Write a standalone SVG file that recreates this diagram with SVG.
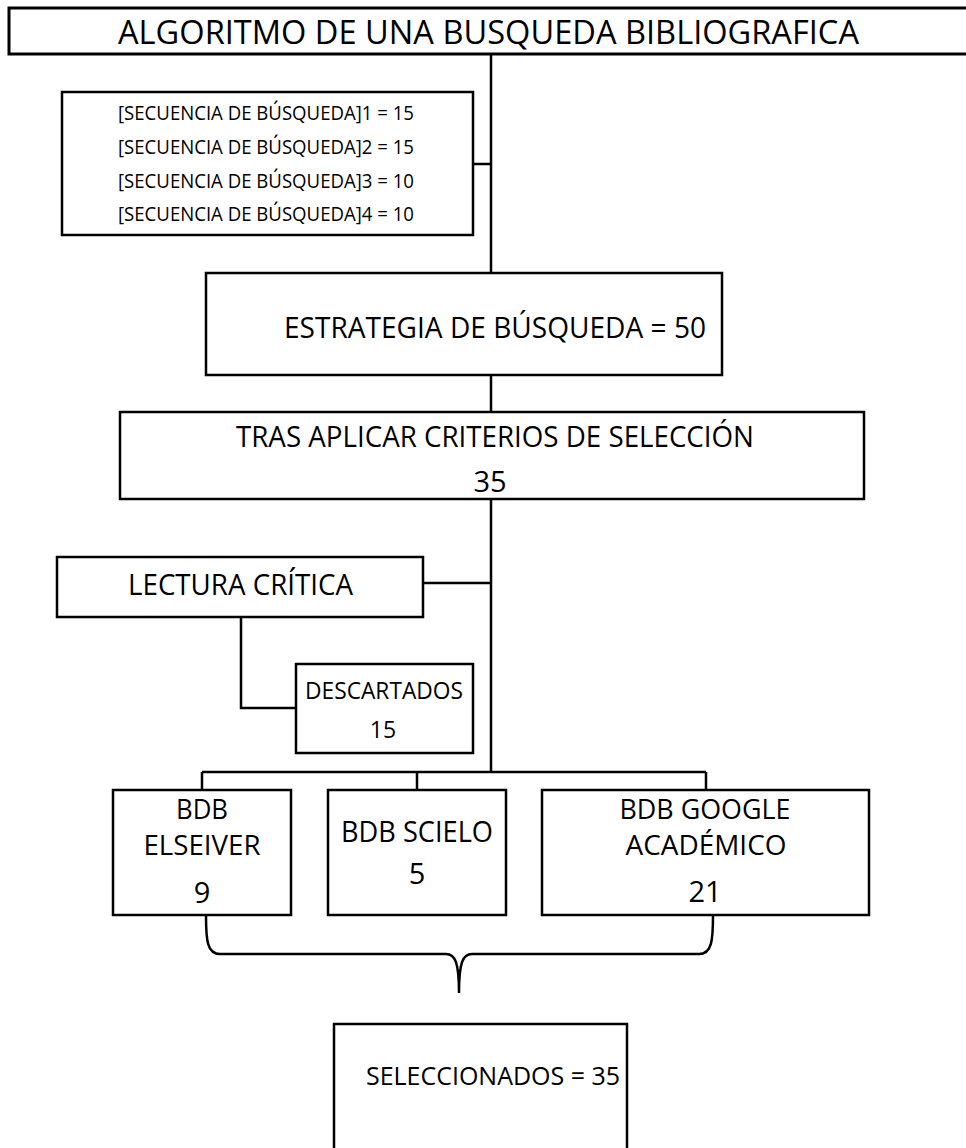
<svg xmlns="http://www.w3.org/2000/svg" width="966" height="1148" viewBox="0 0 966 1148">
<style>
.box{fill:#fff;stroke:#000;stroke-width:2.5}
.ln{fill:none;stroke:#000;stroke-width:2.5}
text{font-family:"Open Sans","Liberation Sans",sans-serif;fill:#000;text-anchor:middle}
.t1{font-size:33.6px}
.t2{font-size:29px}
.t2s{font-size:27.5px}
.t3{font-size:20px}
.t4{font-size:23px}
.t5{font-size:25.5px}
</style>
<rect width="966" height="1148" fill="#fff"/>
<g id="connectors">
<path class="ln" d="M491 54 V273 M473 164 H491 M491 375 V412 M491 499 V772 M423 583 H491 M241 617 V708 H296 M202 772 H706 M202 772 V790 M417 772 V790 M706 772 V790"/>
<path class="ln" d="M206 915 C206 940 207 954 220 954 L446 954 C455 954 459 962 459 993 M713 915 C713 940 712 954 699 954 L472 954 C463 954 459 962 459 993"/>
</g>
<g id="title">
<rect class="box" x="9" y="8" width="970" height="46" style="stroke-width:3"/>
<text class="t1" x="488.5" y="44" textLength="741" lengthAdjust="spacingAndGlyphs">ALGORITMO DE UNA BUSQUEDA BIBLIOGRAFICA</text>
</g>
<g id="secuencias">
<rect class="box" x="62" y="92" width="411" height="143"/>
<text class="t3" x="266" y="120" textLength="296" lengthAdjust="spacingAndGlyphs">[SECUENCIA DE BÚSQUEDA]1 = 15</text>
<text class="t3" x="266" y="154" textLength="296" lengthAdjust="spacingAndGlyphs">[SECUENCIA DE BÚSQUEDA]2 = 15</text>
<text class="t3" x="266" y="188" textLength="296" lengthAdjust="spacingAndGlyphs">[SECUENCIA DE BÚSQUEDA]3 = 10</text>
<text class="t3" x="266" y="221" textLength="296" lengthAdjust="spacingAndGlyphs">[SECUENCIA DE BÚSQUEDA]4 = 10</text>
</g>
<g id="estrategia">
<rect class="box" x="206" y="273" width="516" height="102"/>
<text class="t2" x="495" y="338" textLength="422" lengthAdjust="spacingAndGlyphs">ESTRATEGIA DE BÚSQUEDA = 50</text>
</g>
<g id="criterios">
<rect class="box" x="120" y="412" width="744" height="87"/>
<text class="t2" x="495" y="447" textLength="518" lengthAdjust="spacingAndGlyphs">TRAS APLICAR CRITERIOS DE SELECCIÓN</text>
<text class="t2" x="490" y="492">35</text>
</g>
<g id="lectura">
<rect class="box" x="57" y="557" width="366" height="60"/>
<text class="t2" x="240.5" y="595" textLength="225" lengthAdjust="spacingAndGlyphs">LECTURA CRÍTICA</text>
</g>
<g id="descartados">
<rect class="box" x="296" y="664" width="177" height="89"/>
<text class="t4" x="384" y="699" textLength="158" lengthAdjust="spacingAndGlyphs">DESCARTADOS</text>
<text class="t4" x="383" y="738">15</text>
</g>
<g id="elseiver">
<rect class="box" x="113" y="790" width="178" height="125"/>
<text class="t2s" x="202" y="819" textLength="52" lengthAdjust="spacingAndGlyphs">BDB</text>
<text class="t2s" x="202" y="855" textLength="117" lengthAdjust="spacingAndGlyphs">ELSEIVER</text>
<text class="t2" x="202" y="903">9</text>
</g>
<g id="scielo">
<rect class="box" x="328" y="790" width="178" height="125"/>
<text class="t2" x="417" y="842" textLength="152" lengthAdjust="spacingAndGlyphs">BDB SCIELO</text>
<text class="t2" x="417" y="884">5</text>
</g>
<g id="google">
<rect class="box" x="542" y="790" width="327" height="125"/>
<text class="t2s" x="705" y="819" textLength="171" lengthAdjust="spacingAndGlyphs">BDB GOOGLE</text>
<text class="t2s" x="706" y="855" textLength="161" lengthAdjust="spacingAndGlyphs">ACADÉMICO</text>
<text class="t2" x="705" y="902">21</text>
</g>
<g id="seleccionados">
<rect class="box" x="334" y="1024" width="293" height="140"/>
<text class="t5" x="493" y="1085" textLength="254" lengthAdjust="spacingAndGlyphs">SELECCIONADOS = 35</text>
</g>
</svg>
